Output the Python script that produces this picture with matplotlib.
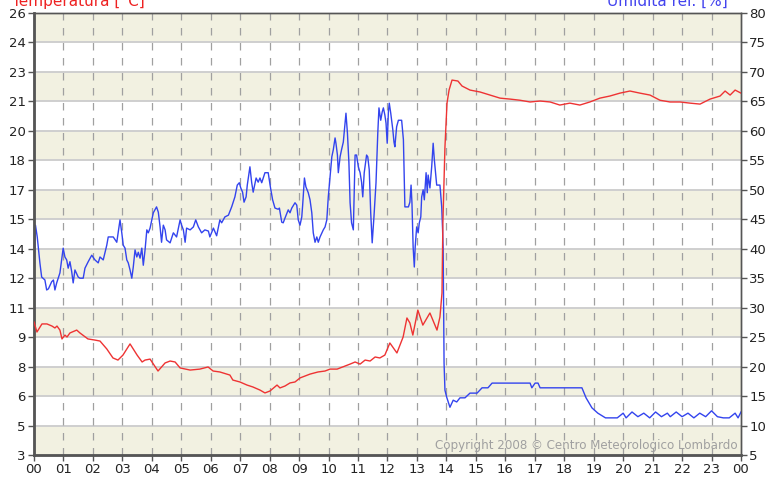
import numpy as np
import matplotlib.pyplot as plt

ore_temp = [0.00, 0.10, 0.27, 0.44, 0.61, 0.71, 0.78, 0.88, 0.95, 1.05, 1.12, 1.22, 1.45, 1.56,
            1.83, 2.07, 2.24, 2.47, 2.68, 2.85, 3.02, 3.26, 3.50, 3.67, 3.77, 3.94, 4.21, 4.45,
            4.62, 4.79, 4.96, 5.30, 5.63, 5.91, 6.08, 6.31, 6.65, 6.75, 6.99, 7.23, 7.43, 7.67,
            7.84, 8.01, 8.25, 8.35, 8.52, 8.69, 8.86, 9.03, 9.20, 9.37, 9.64, 9.88, 10.05, 10.29,
            10.56, 10.73, 10.90, 11.07, 11.24, 11.41, 11.58, 11.74, 11.91, 12.08, 12.32, 12.53,
            12.66, 12.76, 12.86, 13.03, 13.20, 13.44, 13.68, 13.78, 13.85, 13.88, 13.95, 14.02,
            14.09, 14.19, 14.39, 14.53, 14.80, 15.14, 15.48, 15.82, 16.16, 16.50, 16.84, 17.18,
            17.52, 17.85, 18.19, 18.53, 18.87, 19.21, 19.55, 19.89, 20.23, 20.57, 20.91, 21.25,
            21.59, 21.93, 22.27, 22.61, 22.95, 23.29, 23.46, 23.63, 23.80, 24.00]
temperatura = [9.92, 9.40, 9.82, 9.82, 9.71, 9.61, 9.71, 9.50, 9.04, 9.24, 9.14, 9.35, 9.50, 9.35,
               9.04, 8.98, 8.93, 8.52, 8.05, 7.94, 8.20, 8.78, 8.20, 7.84, 7.94, 7.99, 7.37, 7.79,
               7.89, 7.84, 7.53, 7.42, 7.47, 7.58, 7.37, 7.32, 7.16, 6.90, 6.80, 6.64, 6.54, 6.38,
               6.23, 6.33, 6.64, 6.49, 6.59, 6.75, 6.80, 7.01, 7.11, 7.21, 7.32, 7.37, 7.47, 7.47,
               7.63, 7.73, 7.84, 7.73, 7.94, 7.89, 8.10, 8.05, 8.20, 8.83, 8.31, 9.14,
               10.13, 9.87, 9.24, 10.54, 9.76, 10.39, 9.50, 10.18, 11.43, 15.07, 19.02, 21.31,
               21.99, 22.51, 22.46, 22.20, 21.99, 21.89, 21.73, 21.57, 21.52, 21.46, 21.37, 21.42,
               21.37, 21.21, 21.31, 21.21, 21.37, 21.57, 21.68, 21.83, 21.94, 21.83, 21.73, 21.46,
               21.37, 21.37, 21.31, 21.26, 21.52, 21.68, 21.94, 21.73, 21.99, 21.83]

ore_umid = [0.00, 0.01, 0.05, 0.11, 0.20, 0.26, 0.37, 0.43, 0.49, 0.60, 0.66, 0.71, 0.77, 0.88,
            0.99, 1.05, 1.11, 1.16, 1.22, 1.28, 1.33, 1.39, 1.50, 1.56, 1.67, 1.73, 1.84, 1.96,
            2.07, 2.18, 2.24, 2.35, 2.47, 2.52, 2.69, 2.81, 2.86, 2.92, 2.98, 3.03, 3.09, 3.15,
            3.20, 3.26, 3.32, 3.37, 3.43, 3.49, 3.54, 3.60, 3.66, 3.71, 3.77, 3.83, 3.88, 3.94,
            4.05, 4.16, 4.22, 4.28, 4.33, 4.39, 4.45, 4.50, 4.62, 4.73, 4.84, 4.96, 5.01, 5.07,
            5.13, 5.18, 5.30, 5.41, 5.49, 5.58, 5.69, 5.80, 5.92, 5.97, 6.09, 6.20, 6.31, 6.37,
            6.48, 6.60, 6.71, 6.82, 6.90, 6.97, 7.02, 7.08, 7.13, 7.20, 7.24, 7.33, 7.39, 7.44,
            7.54, 7.61, 7.67, 7.73, 7.84, 7.95, 8.03, 8.10, 8.18, 8.29, 8.33, 8.41, 8.46, 8.52,
            8.63, 8.69, 8.75, 8.86, 8.92, 8.97, 9.03, 9.09, 9.12, 9.18, 9.23, 9.31, 9.37, 9.43,
            9.48, 9.54, 9.60, 9.65, 9.71, 9.82, 9.88, 9.94, 9.99, 10.05, 10.11, 10.16, 10.22,
            10.25, 10.30, 10.33, 10.39, 10.44, 10.50, 10.56, 10.59, 10.64, 10.69, 10.73, 10.78,
            10.84, 10.90, 10.95, 11.01, 11.07, 11.12, 11.16, 11.21, 11.29, 11.33, 11.38, 11.43,
            11.48, 11.54, 11.61, 11.67, 11.71, 11.77, 11.82, 11.86, 11.91, 11.95, 11.99, 12.03,
            12.06, 12.11, 12.18, 12.22, 12.25, 12.31, 12.37, 12.48, 12.54, 12.57, 12.59, 12.71,
            12.76, 12.80, 12.83, 12.87, 12.91, 12.94, 12.99, 13.04, 13.08, 13.13, 13.16, 13.21,
            13.25, 13.31, 13.35, 13.38, 13.44, 13.50, 13.55, 13.59, 13.67, 13.78, 13.84, 13.87,
            13.89, 13.90, 13.92, 13.95, 14.01, 14.12, 14.23, 14.35, 14.46, 14.63, 14.80, 15.04,
            15.21, 15.41, 15.55, 16.84, 16.90, 17.01, 17.11, 17.18, 18.60, 18.74, 18.94, 19.14,
            19.40, 19.80, 20.00, 20.10, 20.30, 20.50, 20.70, 20.90, 21.10, 21.30, 21.50, 21.60,
            21.80, 22.00, 22.20, 22.40, 22.60, 22.80, 23.00, 23.20, 23.40, 23.60, 23.80, 23.90,
            24.00]
umidita = [41.5, 37.2, 44.0, 42.0, 37.6, 35.2, 34.7, 33.0, 33.2, 34.4, 34.7, 33.0, 34.2, 35.9,
           40.1, 38.6, 38.1, 36.7, 37.8, 36.1, 34.2, 36.4, 35.2, 35.0, 35.0, 36.7, 37.8, 38.9,
           38.1, 37.6, 38.6, 38.1, 40.6, 42.0, 42.0, 41.1, 42.8, 44.9, 42.7, 40.6, 40.1, 38.1,
           37.6, 36.4, 35.0, 36.9, 39.8, 38.6, 39.4, 38.4, 40.1, 37.2, 39.8, 43.2, 42.7, 43.5,
           46.1, 47.1, 46.2, 43.7, 41.1, 44.0, 43.2, 41.5, 41.0, 42.7, 42.0, 44.9, 44.0, 43.2,
           41.1, 43.5, 43.2, 43.7, 44.9, 43.7, 42.7, 43.2, 43.0, 42.0, 43.5, 42.2, 44.9, 44.4,
           45.4, 45.7, 47.1, 48.8, 50.8, 51.2, 50.3, 49.6, 47.9, 48.8, 50.8, 53.9, 51.2, 49.6,
           52.0, 51.3, 52.0, 51.2, 52.9, 52.9, 50.3, 48.3, 46.9, 46.7, 46.9, 44.5, 44.4, 45.2,
           46.6, 46.1, 46.9, 47.8, 47.4, 44.9, 44.0, 45.4, 47.4, 52.0, 50.5, 49.5, 48.3, 46.1,
           42.7, 41.1, 42.0, 41.1, 42.0, 43.2, 43.7, 44.9, 48.8, 52.2, 55.6, 56.8, 58.8,
           57.9, 55.9, 52.9, 55.6, 56.8, 58.1, 61.3, 63.0, 59.6, 54.6, 47.8, 44.4,
           43.2, 55.9, 55.9, 53.9, 52.9, 51.3, 48.8, 52.9, 55.9, 55.6, 53.4, 46.1,
           41.0, 45.4, 51.2, 59.6, 63.9, 61.8, 63.2, 63.9, 62.7, 61.3, 57.9, 63.2,
           64.7, 63.0, 60.2, 58.1, 57.3, 60.7, 61.8, 61.8, 58.5, 51.2, 47.1, 47.1,
           47.9, 50.8, 47.8, 40.3, 36.9, 40.3, 43.7, 42.7, 44.4, 45.4, 48.8, 50.0,
           48.3, 52.9, 49.5, 52.5, 50.3, 53.9, 57.9, 55.1, 50.8, 50.8, 47.1, 43.2,
           39.8, 33.0, 20.6, 16.0, 14.8, 13.1, 14.3, 14.0, 14.7, 14.7, 15.5, 15.5,
           16.4, 16.4, 17.2, 17.2, 16.4, 17.2, 17.2, 16.4, 16.4, 14.7, 13.0, 12.1,
           11.3, 11.3, 12.1, 11.3, 12.3, 11.5, 12.1, 11.3, 12.3, 11.5, 12.1, 11.5,
           12.3, 11.5, 12.1, 11.3, 12.1, 11.5, 12.5, 11.5, 11.3, 11.3, 12.1, 11.3,
           12.3]

etichette_ore = ["00", "01", "02", "03", "04", "05", "06", "07", "08", "09", "10", "11",
                 "12", "13", "14", "15", "16", "17", "18", "19", "20", "21", "22", "23", "00"]
etichette_temp = ["3", "5", "6", "8", "9", "11", "12", "14", "15", "17", "18", "20",
                  "21", "23", "24", "26"]
tick_umid = list(range(5, 81, 5))

fig = plt.figure(figsize=(7.71, 4.8), dpi=100)
ax = fig.add_axes([34 / 771, 25 / 480, 707 / 771, 442 / 480])
ax2 = ax.twinx()

t_min, t_max = 3, 26
ax.set_xlim(0, 24)
ax.set_ylim(t_min, t_max)
ax2.set_ylim(5, 80)

# fasce alternate e griglia
for k in range(15):
    if k % 2 == 0:
        ax2.axhspan(5 + 5 * k, 10 + 5 * k, color="#f2f1e1", zorder=0, lw=0)
for v in tick_umid[1:-1]:
    ax2.axhline(v, color="#cfcfcf", lw=1.4, zorder=0.5)
for h in range(1, 24):
    ax2.axvline(h, color="#a0a0a0", lw=0.9, ls=(0, (6, 6)), zorder=0.6)

ax.plot(ore_temp, temperatura, color="#ee3333", lw=1.0, zorder=3)
ax2.plot(ore_umid, umidita, color="#3344ee", lw=1.0, zorder=3)

ax.set_xticks(range(25))
ax.set_xticklabels(etichette_ore)
ax.set_yticks(np.linspace(t_min, t_max, 16))
ax.set_yticklabels(etichette_temp)
ax2.set_yticks(tick_umid)

for a in (ax, ax2):
    a.tick_params(labelsize=9.5, length=4, width=1, color="#555555", labelcolor="#222222", pad=2)
    for s in a.spines.values():
        s.set_color("#555555")
        s.set_linewidth(1)
ax.spines["left"].set_linewidth(2)
ax.spines["bottom"].set_linewidth(2)
ax.set_zorder(ax2.get_zorder() + 1)
ax.patch.set_visible(False)

ax2.text(23.9, 5.5, "Copyright 2008 \u00a9 Centro Meteorologico Lombardo", ha="right",
         va="bottom", fontsize=8.6, color="#a0a0a0", zorder=4)

fig.text(12 / 771, 1 - 6 / 480, "Temperatura [\u00b0C]", color="#ee2222", fontsize=11,
         ha="left", va="baseline")
fig.text(728 / 771, 1 - 6 / 480, "Umidit\u00e0 rel. [%]", color="#4444ee", fontsize=11,
         ha="right", va="baseline")

fig.savefig("out.png", dpi=100)
